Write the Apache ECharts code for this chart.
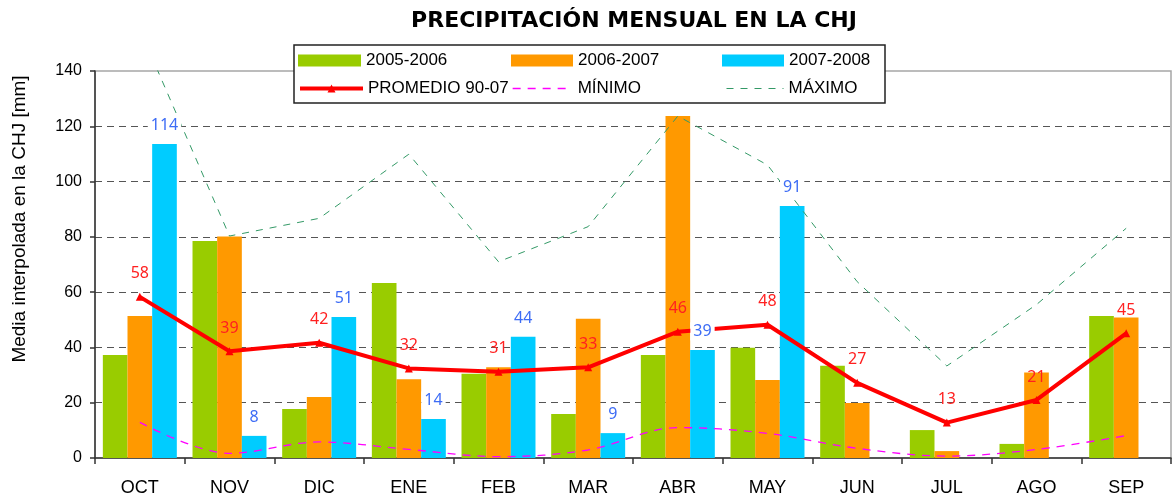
<!DOCTYPE html>
<html><head><meta charset="utf-8">
<script src="https://cdn.jsdelivr.net/npm/echarts/dist/echarts.min.js"></script>
<style>html,body{margin:0;padding:0;background:#fff}#c{width:1174px;height:499px}</style>
</head><body><div id="c"></div>
<script>
const categories = ['OCT','NOV','DIC','ENE','FEB','MAR','ABR','MAY','JUN','JUL','AGO','SEP'];
const s0506 = [37.3, 78.5, 17.7, 63.3, 30.5, 15.9, 37.3, 39.9, 33.4, 10.1, 5.1, 51.4];
const s0607 = [51.4, 80.1, 22.1, 28.5, 32.8, 50.4, 123.7, 28.2, 19.9, 2.5, 30.9, 50.8];
const s0708 = [113.6, 8.0, 51.0, 14.1, 43.9, 9.0, 39.1, 91.2, null, null, null, null];
const promedio = [58.3, 38.6, 41.7, 32.4, 31.2, 32.8, 45.7, 48.2, 27.2, 12.8, 21.0, 45.1];
const minimo = [12.9, 1.7, 5.8, 3.1, 0.5, 2.9, 11.0, 8.9, 3.5, 0.7, 3.1, 8.1];
const maximo = [155, 80.3, 86.7, 109.9, 71.0, 83.7, 123.7, 106.0, 63.8, 33.3, 55.5, 83.1];
const yTicks = [0, 20, 40, 60, 80, 100, 120, 140];
const names = ['2005-2006', '2006-2007', '2007-2008', 'PROMEDIO 90-07', 'MÍNIMO', 'MÁXIMO'];
const titleText = 'PRECIPITACIÓN MENSUAL EN LA CHJ';
const yName = 'Media interpolada en la CHJ [mm]';

const W = 1174, GL = 95, GR = 3, CAT_GAP = 0.175;
const chart = echarts.init(document.getElementById('c'), null, {renderer: 'canvas'});
const F = 'Liberation Sans';
const legendText = {fontFamily: F, fontSize: 17, color: '#000'};
function lg(name, left, top, w, h, extra) {
  return Object.assign({data: [name], left: left, top: top, itemWidth: w, itemHeight: h, padding: 0,
    itemGap: 0, selectedMode: false, textStyle: legendText, z: 5}, extra || {});
}
const splitColors = yTicks.map((v, i) => (i === 0 || i === yTicks.length - 1) ? 'rgba(0,0,0,0)' : '#555');
const round = p => (p.value == null ? '' : Math.round(p.value));
const band = (W - GL - GR) / categories.length;
const barW = band * (1 - CAT_GAP) / 3;

chart.setOption({
  animation: false,
  backgroundColor: '#fff',
  graphic: [
    {type: 'text', x: 634, y: 21, z: 10,
      style: {text: titleText, font: 'bold 22px "DejaVu Sans"', fill: '#000', textAlign: 'center', textVerticalAlign: 'middle'}},
    {type: 'text', x: 20, y: 219, rotation: Math.PI / 2,
      style: {text: yName, font: '19px "Liberation Sans"', fill: '#000', textAlign: 'center', textVerticalAlign: 'middle'}},
    {type: 'rect', shape: {x: 294, y: 45, width: 591, height: 58}, z: 3,
      style: {fill: '#fff', stroke: '#222', lineWidth: 1.5}}
  ],
  grid: {left: GL, right: GR, top: 71, bottom: 41, show: true, borderColor: '#a6a6a6', borderWidth: 1.5, backgroundColor: '#fff'},
  legend: [
    lg(names[0], 298, 52, 63, 12, {icon: 'rect'}),
    lg(names[1], 511, 52, 62, 12, {icon: 'rect'}),
    lg(names[2], 722, 52, 62, 12, {icon: 'rect'}),
    lg(names[3], 298, 80, 63, 10, {lineStyle: {width: 4}}),
    lg(names[4], 512, 80, 60, 10, {itemStyle: {opacity: 0}, lineStyle: {width: 1.3}}),
    lg(names[5], 726, 80, 57, 10, {itemStyle: {opacity: 0}, lineStyle: {width: 1}})
  ],
  xAxis: {
    type: 'category', data: categories, boundaryGap: true,
    axisLine: {lineStyle: {color: '#333', width: 1.5}},
    axisTick: {show: true, length: 6, lineStyle: {color: '#333', width: 1.5}},
    axisLabel: {fontFamily: F, fontSize: 18, color: '#000', margin: 21},
    splitLine: {show: false}
  },
  yAxis: {
    type: 'value', min: yTicks[0], max: yTicks[yTicks.length - 1], interval: yTicks[1] - yTicks[0],
    axisLine: {show: true, lineStyle: {color: '#333', width: 1.5}},
    axisTick: {show: true, length: 5, lineStyle: {color: '#333', width: 1.5}},
    axisLabel: {fontFamily: F, fontSize: 16, color: '#000', margin: 13},
    splitLine: {show: true, lineStyle: {color: splitColors, type: [7, 5], width: 1.2}}
  },
  series: [
    {name: names[0], type: 'bar', data: s0506, barGap: '0%', barCategoryGap: (CAT_GAP * 100) + '%', itemStyle: {color: '#99CC00'}},
    {name: names[1], type: 'bar', data: s0607, barGap: '0%', barCategoryGap: (CAT_GAP * 100) + '%', itemStyle: {color: '#FF9900'}},
    {name: names[2], type: 'bar', data: s0708, barGap: '0%', barCategoryGap: (CAT_GAP * 100) + '%', itemStyle: {color: '#00CCFF'}},
    {name: names[4], type: 'line', data: minimo, smooth: 0.35, symbol: 'none', z: 3,
      lineStyle: {color: '#FF00FF', width: 1.3, type: [8, 7]}, itemStyle: {color: '#FF00FF'}},
    {name: names[5], type: 'line', data: maximo, symbol: 'none', z: 3,
      lineStyle: {color: '#339966', width: 1, type: [7, 7]}, itemStyle: {color: '#339966'}},
    {name: names[3], type: 'line', data: promedio, symbol: 'triangle', symbolSize: 8, z: 4,
      lineStyle: {color: '#FF0000', width: 4}, itemStyle: {color: '#FF0000'},
      label: {show: true, position: 'top', distance: 11, formatter: round, fontFamily: 'Noto Sans', fontSize: 16, color: '#FF2020'}},
    {name: 'labels0708', type: 'line', data: s0708, symbol: 'circle', symbolSize: 1, z: 6,
      lineStyle: {opacity: 0}, itemStyle: {color: 'rgba(0,0,0,0)'}, silent: true,
      label: {show: true, position: 'top', distance: 9, offset: [barW, 0], formatter: round, fontFamily: 'Noto Sans', fontSize: 16,
        color: '#3d6cf5', backgroundColor: '#fff', padding: [1, 3]}}
  ]
});
</script>
</body></html>
